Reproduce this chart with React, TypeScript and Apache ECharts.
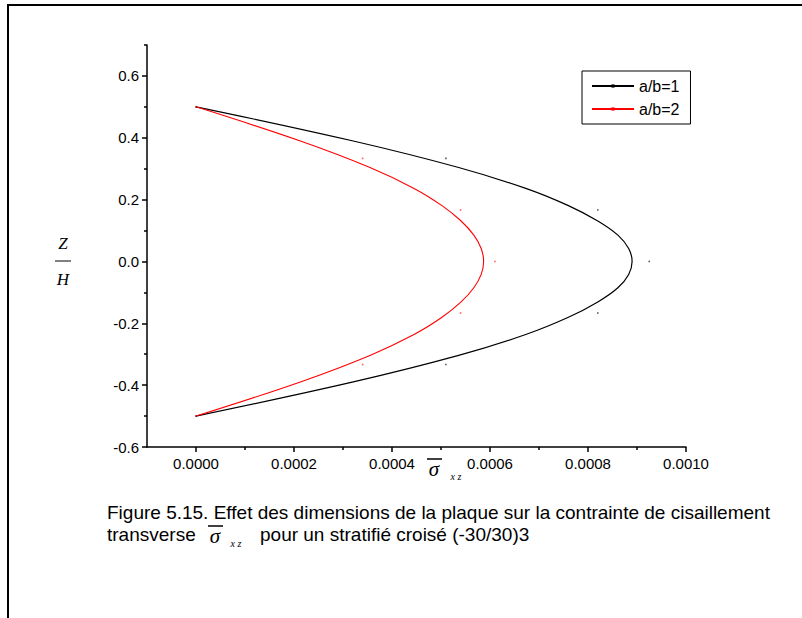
import { useEffect, useRef } from 'react';
import * as echarts from 'echarts';

// Smooth (B-spline) curves: z/H vs sigma_xz
const zCurve = [0.5, 0.3895, 0.3038, 0.2363, 0.1806, 0.1309, 0.0851, 0.0419, 0, -0.0419, -0.0851, -0.1309, -0.1806, -0.2363, -0.3038, -0.3895, -0.5];
const curveAB1 = [0, 0.000321, 0.000536, 0.000673, 0.00076, 0.00082, 0.000861, 0.000883, 0.00089, 0.000883, 0.000861, 0.00082, 0.00076, 0.000673, 0.000536, 0.000321, 0];
const curveAB2 = [0, 0.000213, 0.000355, 0.000445, 0.000502, 0.000541, 0.000567, 0.000582, 0.000587, 0.000582, 0.000567, 0.000541, 0.000502, 0.000445, 0.000355, 0.000213, 0];

// Data points (tiny symbols)
const zPoints = [0.5, 0.3333, 0.1667, 0, -0.1667, -0.3333, -0.5];
const pointsAB1 = [0, 0.00051, 0.00082, 0.000925, 0.00082, 0.00051, 0];
const pointsAB2 = [0, 0.00034, 0.00054, 0.00061, 0.00054, 0.00034, 0];

// Ticks
const xMajor = [0, 0.0002, 0.0004, 0.0006, 0.0008, 0.001];
const xMinor = [0.0001, 0.0003, 0.0005, 0.0007, 0.0009];
const yMajor = [-0.6, -0.4, -0.2, 0, 0.2, 0.4, 0.6];
const yMinor = [-0.5, -0.3, -0.1, 0.1, 0.3, 0.5, 0.7];

const seriesNames = ['a/b=1', 'a/b=2'];
const captionLine1 = 'Figure 5.15. Effet des dimensions de la plaque sur la contrainte de cisaillement';
const captionLine2a = 'transverse';
const captionLine2b = 'pour un stratifié croisé (-30/30)3';

const SANS = '"Liberation Sans", Arial, sans-serif';
const SERIF = '"Liberation Serif", "Times New Roman", serif';

export default function App() {
  const ref = useRef<HTMLDivElement>(null);
  useEffect(() => {
    if (!ref.current) return;
    const chart = echarts.init(ref.current, undefined, { renderer: 'svg' });
    const axisCommon = { type: 'value' as const, splitLine: { show: false } };
    const tickLine = { color: '#000', width: 1.5 };
    const option: any = {
      animation: false,
      backgroundColor: '#fff',
      grid: { left: 147, top: 45, width: 539, height: 402 },
      legend: {
        data: seriesNames,
        orient: 'vertical',
        left: 582,
        top: 71,
        borderColor: '#000',
        borderWidth: 1,
        padding: [7, 11, 7, 9],
        itemWidth: 42,
        itemHeight: 4,
        itemGap: 7,
        textStyle: { fontSize: 16, fontFamily: SANS, color: '#000' },
      },
      xAxis: [
        {
          ...axisCommon,
          min: -0.0001,
          max: 0.001,
          axisLine: { onZero: false, lineStyle: tickLine },
          axisTick: { customValues: xMajor, length: 5, lineStyle: tickLine },
          axisLabel: { customValues: xMajor, formatter: (v: number) => v.toFixed(4), color: '#000', fontSize: 15, fontFamily: SANS, margin: 9 },
        },
        {
          ...axisCommon,
          min: -0.0001,
          max: 0.001,
          position: 'bottom',
          axisLine: { show: false, onZero: false },
          axisTick: { customValues: xMinor, length: 3, lineStyle: tickLine },
          axisLabel: { show: false },
        },
      ],
      yAxis: [
        {
          ...axisCommon,
          min: -0.6,
          max: 0.7,
          axisLine: { onZero: false, lineStyle: tickLine },
          axisTick: { customValues: yMajor, length: 5, lineStyle: tickLine },
          axisLabel: { customValues: yMajor, formatter: (v: number) => v.toFixed(1), color: '#000', fontSize: 15, fontFamily: SANS, margin: 8 },
        },
        {
          ...axisCommon,
          min: -0.6,
          max: 0.7,
          position: 'left',
          axisLine: { show: false, onZero: false },
          axisTick: { customValues: yMinor, length: 3, lineStyle: tickLine },
          axisLabel: { show: false },
        },
      ],
      series: [
        {
          name: seriesNames[0],
          type: 'line',
          data: zCurve.map((z, i) => [curveAB1[i], z]),
          smooth: 0.4,
          showSymbol: false,
          symbol: 'rect',
          symbolSize: 3,
          lineStyle: { color: '#000', width: 1.2 },
          itemStyle: { color: '#000' },
          z: 3,
        },
        {
          name: seriesNames[1],
          type: 'line',
          data: zCurve.map((z, i) => [curveAB2[i], z]),
          smooth: 0.4,
          showSymbol: false,
          symbol: 'rect',
          symbolSize: 3,
          lineStyle: { color: '#ff0000', width: 1.1 },
          itemStyle: { color: '#ff0000' },
          z: 3,
        },
        {
          name: 'pts1',
          type: 'scatter',
          data: zPoints.map((z, i) => [pointsAB1[i], z]),
          symbol: 'rect',
          symbolSize: 1.6,
          itemStyle: { color: '#333' },
          silent: true,
        },
        {
          name: 'pts2',
          type: 'scatter',
          data: zPoints.map((z, i) => [pointsAB2[i], z]),
          symbol: 'rect',
          symbolSize: 1.6,
          itemStyle: { color: '#ff3333' },
          silent: true,
        },
      ],
      graphic: [
        { type: 'polyline', shape: { points: [[8, 618], [8, 5], [802, 5]] }, style: { stroke: '#000', lineWidth: 2, fill: null } },
        // y axis title Z / H
        { type: 'text', x: 63, y: 243, style: { text: 'Z', fontSize: 17, fontStyle: 'italic', fontFamily: SERIF, fill: '#000', align: 'center', verticalAlign: 'middle' } },
        { type: 'line', shape: { x1: 55, y1: 261, x2: 71, y2: 261 }, style: { stroke: '#000', lineWidth: 1 } },
        { type: 'text', x: 63, y: 279, style: { text: 'H', fontSize: 17, fontStyle: 'italic', fontFamily: SERIF, fill: '#000', align: 'center', verticalAlign: 'middle' } },
        // x axis title sigma_xz
        { type: 'line', shape: { x1: 427, y1: 459, x2: 442, y2: 459 }, style: { stroke: '#000', lineWidth: 1.5 } },
        { type: 'text', x: 434, y: 469, style: { text: 'σ', fontSize: 21, fontStyle: 'italic', fontFamily: SERIF, fill: '#000', align: 'center', verticalAlign: 'middle' } },
        { type: 'text', x: 456, y: 476, style: { text: 'x z', fontSize: 10, fontStyle: 'italic', fontFamily: SERIF, fill: '#000', align: 'center', verticalAlign: 'middle' } },
        // caption
        { type: 'text', x: 107, y: 512, style: { text: captionLine1, fontSize: 19, fontFamily: SANS, fill: '#000', align: 'left', verticalAlign: 'middle' } },
        { type: 'text', x: 107, y: 534, style: { text: captionLine2a, fontSize: 19, fontFamily: SANS, fill: '#000', align: 'left', verticalAlign: 'middle' } },
        { type: 'line', shape: { x1: 208, y1: 526, x2: 223, y2: 526 }, style: { stroke: '#000', lineWidth: 1.5 } },
        { type: 'text', x: 215, y: 536, style: { text: 'σ', fontSize: 21, fontStyle: 'italic', fontFamily: SERIF, fill: '#000', align: 'center', verticalAlign: 'middle' } },
        { type: 'text', x: 236, y: 543, style: { text: 'x z', fontSize: 10, fontStyle: 'italic', fontFamily: SERIF, fill: '#000', align: 'center', verticalAlign: 'middle' } },
        { type: 'text', x: 260, y: 534, style: { text: captionLine2b, fontSize: 19, fontFamily: SANS, fill: '#000', align: 'left', verticalAlign: 'middle' } },
      ],
    };
    chart.setOption(option);
    return () => chart.dispose();
  }, []);
  return <div ref={ref} style={{ position: 'fixed', left: 0, top: 0, width: 802, height: 618, background: '#fff' }} />;
}
